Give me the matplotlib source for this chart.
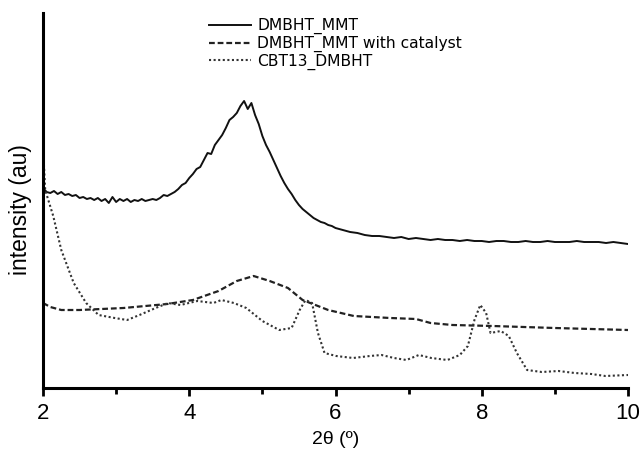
import matplotlib
matplotlib.use("Agg")
import matplotlib.pyplot as plt
import numpy as np

plt.rcParams['font.family'] = ['Liberation Sans', 'DejaVu Sans']

# DMBHT_MMT (solid)
x_mmt = [2.0, 2.05, 2.1, 2.15, 2.2, 2.25, 2.3, 2.35, 2.4, 2.45, 2.5, 2.55, 2.6, 2.65, 2.7, 2.75, 2.8,
         2.85, 2.9, 2.95, 3.0, 3.05, 3.1, 3.15, 3.2, 3.25, 3.3, 3.35, 3.4, 3.45, 3.5, 3.55, 3.6, 3.65,
         3.7, 3.75, 3.8, 3.85, 3.9, 3.95, 4.0, 4.05, 4.1, 4.15, 4.2, 4.25, 4.3, 4.35, 4.4, 4.45, 4.5,
         4.55, 4.6, 4.65, 4.7, 4.75, 4.8, 4.85, 4.9, 4.95, 5.0, 5.05, 5.1, 5.15, 5.2, 5.25, 5.3, 5.35,
         5.4, 5.45, 5.5, 5.55, 5.6, 5.65, 5.7, 5.75, 5.8, 5.85, 5.9, 5.95, 6.0, 6.1, 6.2, 6.3, 6.4,
         6.5, 6.6, 6.7, 6.8, 6.9, 7.0, 7.1, 7.2, 7.3, 7.4, 7.5, 7.6, 7.7, 7.8, 7.9, 8.0, 8.1, 8.2,
         8.3, 8.4, 8.5, 8.6, 8.7, 8.8, 8.9, 9.0, 9.1, 9.2, 9.3, 9.4, 9.5, 9.6, 9.7, 9.8, 9.9, 10.0]
y_mmt = [200, 196, 195, 197, 194, 196, 193, 194, 192, 193, 190, 191, 189, 190, 188, 190, 187,
         189, 185, 191, 186, 189, 187, 189, 186, 188, 187, 189, 187, 188, 189, 188, 190, 193,
         192, 194, 196, 199, 203, 205, 210, 214, 219, 221, 228, 235, 234, 243, 248, 253, 260,
         268, 271, 275, 282, 287, 279, 285, 273, 264, 252, 243, 236, 228, 220, 212, 205, 199,
         194, 188, 183, 179, 176, 173, 170, 168, 166, 165, 163, 162, 160, 158, 156, 155, 153,
         152, 152, 151, 150, 151, 149, 150, 149, 148, 149, 148, 148, 147, 148, 147, 147, 146, 147,
         147, 146, 146, 147, 146, 146, 147, 146, 146, 146, 147, 146, 146, 146, 145, 146, 145, 144]

# DMBHT_MMT with catalyst (dashed)
x_cat = [2.0, 2.1, 2.25, 2.5, 2.8, 3.1, 3.4, 3.7, 4.05, 4.4, 4.65, 4.88, 5.1, 5.35, 5.55, 5.9, 6.25,
         6.75, 7.1, 7.3, 7.6, 8.15, 9.0, 10.0]
y_cat = [85, 81, 78, 78, 79, 80, 82, 84, 88, 97, 107, 112, 107, 100, 88, 78, 72, 70, 69, 65, 63, 62, 60, 58]

# CBT13_DMBHT (dotted)
x_cbt = [2.0, 2.03, 2.14, 2.25, 2.42, 2.59, 2.76, 2.98, 3.15, 3.32, 3.54, 3.71, 3.88, 4.11, 4.33,
         4.44, 4.61, 4.78, 5.0, 5.23, 5.4, 5.51, 5.59, 5.68, 5.76, 5.85, 6.01, 6.24, 6.47, 6.63,
         6.8, 6.97, 7.14, 7.31, 7.53, 7.7, 7.81, 7.9, 7.98, 8.06, 8.12, 8.26, 8.37, 8.48, 8.62,
         8.82, 9.05, 9.27, 9.5, 9.69, 10.0]
y_cbt = [242, 198, 172, 138, 105, 85, 73, 70, 68, 73, 80, 85, 83, 87, 85,
         88, 85, 80, 67, 58, 60, 78, 88, 85, 55, 35, 32, 30, 32, 33,
         30, 28, 33, 30, 28, 33, 42, 68, 83, 75, 55, 57, 52, 35, 18,
         16, 17, 15, 14, 12, 13]

labels = ["DMBHT_MMT", "DMBHT_MMT with catalyst", "CBT13_DMBHT"]

fig = plt.figure(figsize=(6.41, 4.49), dpi=100)
ax = fig.add_axes([43/641, 1-388/449, 585/641, 375/449])

ax.plot(x_mmt, y_mmt, color='#111111', lw=1.4, ls='-', label=labels[0])
ax.plot(x_cat, y_cat, color='#222222', lw=1.6, ls=(0, (2.6, 1.3)), label=labels[1])
ax.plot(x_cbt, y_cbt, color='#333333', lw=1.5, ls=(0, (1, 1.2)), label=labels[2])

ax.set_xlim(2, 10)
ax.set_ylim(0, 375)
ax.spines['top'].set_visible(False)
ax.spines['right'].set_visible(False)
ax.spines['left'].set_linewidth(2.2)
ax.spines['bottom'].set_linewidth(2.2)
ax.set_yticks([])
ax.set_xticks([2, 4, 6, 8, 10])
ax.set_xticks([3, 5, 7, 9], minor=True)
ax.tick_params(axis='x', which='major', direction='out', length=6, width=2, labelsize=16, pad=5)
ax.tick_params(axis='x', which='minor', direction='out', length=4, width=2)
for t in ax.get_xticklabels():
    t.set_family(['Liberation Sans', 'DejaVu Sans'])
ax.set_xlabel("2θ (º)", fontsize=14, labelpad=5, family=['Liberation Sans', 'DejaVu Sans'])
ax.set_ylabel("intensity (au)", fontsize=16.5, family=['Liberation Sans', 'DejaVu Sans'])
ax.yaxis.set_label_coords(-0.019, 0.475)

leg = ax.legend(loc='upper left', bbox_to_anchor=(0.265, 1.015), frameon=False,
                prop={'family': 'DejaVu Sans', 'size': 11.2},
                handlelength=2.7, handletextpad=0.4, labelspacing=0.1, borderpad=0.2)

fig.savefig("out.png", dpi=100)
